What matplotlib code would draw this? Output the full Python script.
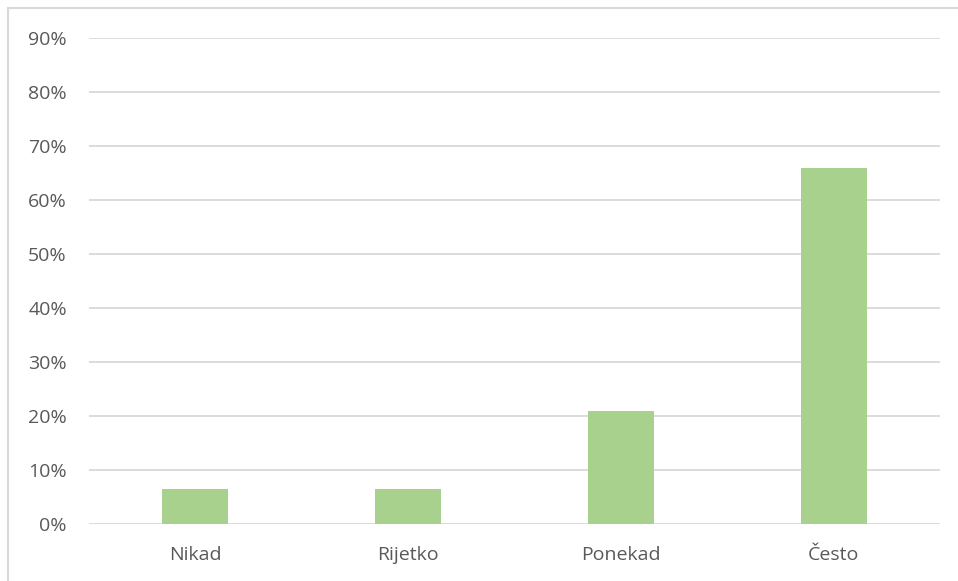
import matplotlib
matplotlib.use("Agg")
import matplotlib.pyplot as plt
from matplotlib.patches import Rectangle
from matplotlib.ticker import FuncFormatter

categories = ["Nikad", "Rijetko", "Ponekad", "Često"]
values = [6.5, 6.5, 20.9, 65.9]
yticks = [0, 10, 20, 30, 40, 50, 60, 70, 80, 90]

plt.rcParams['font.family'] = ['Open Sans', 'DejaVu Sans']

W, H = 958, 581
fig = plt.figure(figsize=(W/100, H/100), dpi=100)
ax = fig.add_axes([89/W, 1-524/H, (940-89)/W, (524-38)/H])

x = list(range(len(categories)))
ax.bar(x, values, width=0.31, color="#A9D18E", zorder=3)
ax.set_xlim(-0.5, len(categories)-0.5)
ax.set_ylim(0, 90)
ax.set_yticks(yticks)
ax.yaxis.set_major_formatter(FuncFormatter(lambda v, p: f"{int(v)}%"))
ax.set_xticks(x)
ax.set_xticklabels(categories)
ax.grid(axis='y', color="#D9D9D9", linewidth=1.3, zorder=0)
for s in ax.spines.values():
    s.set_visible(False)
ax.tick_params(axis='both', length=0, labelsize=14, colors="#595959")
ax.tick_params(axis='y', pad=16)
ax.tick_params(axis='x', pad=16)

fig.patches.append(Rectangle((8/W, -0.1), 1.2, 1.1 - 8/H, transform=fig.transFigure,
                             fill=False, edgecolor="#D9D9D9", linewidth=1.5))

fig.savefig("out.png", dpi=100)
